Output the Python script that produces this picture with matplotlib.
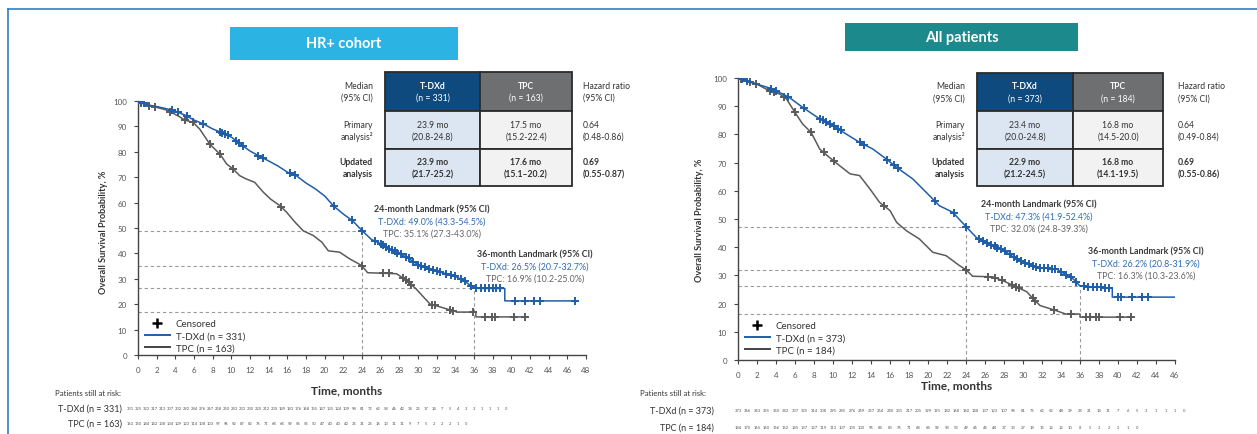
import numpy as np
import matplotlib
matplotlib.use("Agg")
import matplotlib.pyplot as plt
from matplotlib.patches import Rectangle
from matplotlib.lines import Line2D
from matplotlib import transforms

plt.rcParams['font.family'] = ['Lato', 'DejaVu Sans']

W, H = 1257, 435

# ---------------- data ----------------
# HR+ cohort
hr_tdxd_t = [0, 0.5, 1, 2, 3, 4, 5, 6, 7, 8, 9, 10, 11, 12, 13, 14, 15, 16, 17, 18, 19, 20,
             21, 22, 23, 24, 25, 26, 27, 28, 29, 30, 31, 32, 33, 34, 35, 35.6, 36, 36.5, 39.3, 39.3, 47]
hr_tdxd_s = [100, 99.2, 98.5, 97.8, 97, 96, 94.5, 92.5, 91, 89, 87.5, 85.8, 83, 80.3, 78.3, 76.4, 74.4,
             72, 70.5, 67.7, 65.4, 62.6, 58.5, 55.5, 52.8, 49.0, 45.5, 43.8, 41.7, 40, 38, 35.5, 34.2,
             33, 32, 31, 29, 27.5, 26.5, 26.2, 26.2, 21.3, 21.3]
hr_tpc_t = [0, 0.5, 1, 2, 3, 3.5, 4.5, 5.0, 5.9, 6.6, 7.7, 8.8, 9.5, 10.2, 10.9, 11.6, 12.5, 13.4, 14.2,
            15.2, 15.9, 16.8, 17.7, 18.8, 19.7, 20.4, 21.6, 22.7, 23.5, 24.0, 24.6, 27.7, 28.8, 29.8,
            31.3, 32.4, 34.2, 36.2, 36.2, 41.7]
hr_tpc_s = [100, 99, 98.3, 97.5, 96.5, 95.7, 93.7, 92.5, 91.6, 89, 83, 79, 75.2, 73.2, 70.6, 69.3, 68,
            64.2, 61.4, 58.8, 56.3, 52.4, 48.9, 47, 44.4, 41, 40.5, 37.8, 36.2, 35.1, 32.4, 32, 29.3,
            26, 20, 18.9, 16.9, 16.9, 15, 15]
hr_tdxd_cens = [0.3, 0.6, 3.6, 4.3, 5.3, 7.0, 8.8, 9.0, 9.3, 9.6, 10.5, 10.8, 11.2, 12.9, 13.4, 16.3,
                16.8, 21.0, 22.9, 24.0, 25.4, 26.0, 26.3, 26.6, 26.9, 27.2, 27.5, 27.8, 28.2, 28.7,
                29.0, 29.5, 30.0, 30.3, 30.7, 31.2, 31.6, 32.0, 32.4, 33.0, 33.5, 34.0, 34.6, 35.0,
                35.7, 36.2, 36.8, 37.2, 37.6, 38.0, 38.4, 38.8, 40.4, 41.5, 42.4, 43.1, 46.8]
hr_tpc_cens = [0.3, 1.2, 1.8, 3.4, 5.0, 5.9, 7.7, 8.8, 10.2, 15.3, 24.0, 26.3, 26.9, 28.4, 28.7, 29.0,
               29.3, 31.5, 31.8, 33.4, 33.8, 35.9, 37.2, 37.9, 38.3, 40.3, 41.5]
hr_land24 = (49.0, 35.1)
hr_land36 = (26.5, 16.9)
hr_risk_tdxd = [331, 325, 323, 317, 313, 307, 302, 292, 284, 276, 267, 258, 250, 243, 233, 230, 220,
                212, 200, 189, 183, 176, 168, 155, 147, 135, 124, 109, 94, 81, 72, 62, 54, 46, 42, 34,
                25, 17, 14, 7, 5, 4, 3, 3, 1, 1, 1, 0]
hr_risk_tpc = [163, 150, 144, 142, 138, 134, 129, 123, 114, 108, 103, 97, 96, 92, 87, 82, 76, 71, 68,
               64, 59, 56, 55, 50, 47, 43, 43, 42, 35, 31, 25, 16, 13, 11, 11, 9, 7, 5, 2, 2, 2, 1, 0]

# All patients
all_tdxd_t = [0, 1, 1.9, 3, 4.0, 5.4, 6.8, 8.6, 10.0, 11.4, 12.8, 14.2, 15.6, 16.7, 18.4, 19.8, 21.2,
              22.6, 24, 25.1, 26.5, 28.0, 29.3, 30.7, 31.8, 33.5, 35.3, 36.0, 39.4, 39.4, 46.8]
all_tdxd_s = [100, 98.8, 97.9, 96.8, 95.5, 93.1, 89.6, 85.5, 83.1, 80.1, 77.2, 74.8, 71.3, 68.3, 64.2,
              59.5, 54.7, 52.4, 47.3, 43.4, 41.1, 38.8, 35.8, 33.8, 32.6, 32.3, 28.7, 26.2, 25.5,
              22.3, 22.3]
all_tpc_t = [0, 1, 1.9, 3, 4.4, 5.1, 6.0, 6.8, 7.7, 8.6, 9.6, 10.7, 11.8, 12.8, 13.9, 14.9, 16, 16.7,
             17.7, 19.1, 20.5, 21.9, 23.3, 24, 24.7, 26.8, 27.9, 29, 30.4, 31.1, 31.8, 33.5, 34.5, 36.0,
             36.0, 41.4]
all_tpc_s = [100, 98.8, 98, 96, 94.3, 92.6, 87.8, 83.7, 80.7, 74.8, 71.9, 68.9, 66, 65.4, 60.6, 55.9,
             53, 48.8, 45.9, 42.9, 38.2, 37, 33.5, 32.0, 29.7, 29.5, 28.1, 26.4, 24.2, 21.6, 19.3,
             17.5, 16.3, 16.3, 15.2, 15.2]
all_tdxd_cens = [0.4, 0.9, 3.5, 4.0, 5.3, 6.9, 8.6, 8.9, 9.3, 9.7, 10.1, 10.5, 10.8, 12.8, 13.3, 15.7,
                 16.4, 16.8, 20.7, 22.7, 24.0, 25.4, 25.8, 26.2, 26.6, 27.0, 27.3, 27.7, 28.1, 28.6,
                 29.0, 29.4, 29.8, 30.2, 30.6, 31.0, 31.4, 31.8, 32.2, 32.6, 33.0, 33.4, 34.0, 34.5,
                 35.0, 35.6, 36.4, 36.8, 37.4, 37.8, 38.2, 38.6, 39.0, 40.0, 40.3, 41.5, 42.5, 43.2, 46.8]
all_tpc_cens = [0.3, 1.3, 1.9, 3.4, 3.8, 4.8, 6.0, 7.7, 9.0, 10.1, 15.4, 24.0, 26.3, 27.0, 27.8, 28.8,
                29.3, 29.6, 31.0, 31.3, 33.3, 35.0, 36.6, 37.1, 37.7, 38.0, 40.2, 41.4]
all_land24 = (47.3, 32.0)
all_land36 = (26.2, 16.3)
all_risk_tdxd = [373, 366, 363, 355, 350, 342, 337, 325, 314, 308, 295, 285, 276, 269, 257, 254, 240,
                 231, 217, 205, 199, 191, 182, 168, 160, 148, 137, 123, 107, 94, 81, 75, 62, 52, 48,
                 39, 28, 21, 18, 11, 7, 6, 5, 3, 1, 1, 1, 0]
all_risk_tpc = [184, 170, 165, 160, 156, 152, 145, 137, 127, 119, 113, 107, 105, 100, 95, 88, 83, 76,
                71, 68, 64, 59, 58, 53, 49, 45, 45, 44, 37, 33, 27, 18, 15, 12, 12, 10, 8, 5, 2, 2, 2,
                1, 0]

# Median OS table text
hr_table = [["23.9 mo", "(20.8-24.8)", "17.5 mo", "(15.2-22.4)", "0.64", "(0.48-0.86)"],
            ["23.9 mo", "(21.7-25.2)", "17.6 mo", "(15.1\u201320.2)", "0.69", "(0.55-0.87)"]]
all_table = [["23.4 mo", "(20.0-24.8)", "16.8 mo", "(14.5-20.0)", "0.64", "(0.49-0.84)"],
             ["22.9 mo", "(21.2-24.5)", "16.8 mo", "(14.1-19.5)", "0.69", "(0.55-0.86)"]]

BLUE = "#1f5ea8"
GREY = "#5b5b5b"
NAVY = "#0e4a7e"
HDR_GREY = "#6e6f71"
TXT = "#333333"


def fx(x):
    return x / W


def fy(y):
    return 1 - y / H


fig = plt.figure(figsize=(W / 100, H / 100), dpi=100)
fig.patch.set_facecolor("white")

# frame lines
fig.add_artist(Line2D([fx(8), fx(8)], [fy(10), fy(435)], color="#2f7fc4", lw=1.2))
fig.add_artist(Line2D([fx(8), fx(1257)], [fy(10), fy(10)], color="#2f7fc4", lw=1.2))


def title_box(x0, x1, y0, y1, label, color):
    fig.add_artist(Rectangle((fx(x0), fy(y1)), fx(x1 - x0), (y1 - y0) / H,
                             facecolor=color, edgecolor="none", transform=fig.transFigure))
    fig.text(fx((x0 + x1) / 2), fy((y0 + y1) / 2), label, color="white", fontsize=10.5,
             fontweight="bold", ha="center", va="center")


title_box(230, 458, 28, 61, "HR+ cohort", "#2bb3e4")
title_box(845, 1078, 24, 52, "All patients", "#1c8a8c")


def km_panel(rect, xmax, tdxd_t, tdxd_s, tpc_t, tpc_s, tdxd_c, tpc_c, l24, l36, n_tdxd, n_tpc,
             leg_y):
    ax = fig.add_axes(rect)
    ax.set_xlim(0, xmax)
    ax.set_ylim(0, 100)
    for side in ("top", "right"):
        ax.spines[side].set_visible(False)
    for side in ("left", "bottom"):
        ax.spines[side].set_color("#444444")
        ax.spines[side].set_linewidth(1.0)
    ax.set_xticks(np.arange(0, xmax + 1, 2))
    ax.set_yticks(np.arange(0, 101, 10))
    ax.tick_params(labelsize=5.8, labelcolor="#555555", length=3, width=0.8, color="#444444", pad=5)
    ax.patch.set_alpha(0)

    # landmark guides
    dash = dict(color="#9a9a9a", lw=0.8, ls=(0, (3, 2.5)), zorder=1)
    for v in l24:
        ax.plot([0, 24], [v, v], **dash)
    for v in l36:
        ax.plot([0, 36], [v, v], **dash)
    ax.plot([24, 24], [0, max(l24)], **dash)
    ax.plot([36, 36], [0, max(l36)], **dash)

    ax.plot(tpc_t, tpc_s, color=GREY, lw=1.1, zorder=3)
    ax.plot(tdxd_t, tdxd_s, color=BLUE, lw=1.1, zorder=4)
    ax.plot(tpc_c, np.interp(tpc_c, tpc_t, tpc_s), ls="none", marker="+", ms=5.5, mew=1.4,
            color=GREY, zorder=3)
    ax.plot(tdxd_c, np.interp(tdxd_c, tdxd_t, tdxd_s), ls="none", marker="+", ms=5.5, mew=1.4,
            color=BLUE, zorder=4)

    handles = [Line2D([], [], ls="none", marker="+", ms=7.5, mew=1.8, color="black"),
               Line2D([], [], color=BLUE, lw=1.4),
               Line2D([], [], color="#444444", lw=1.4)]
    labels = ["Censored", f"T-DXd (n = {n_tdxd})", f"TPC (n = {n_tpc})"]
    ax.legend(handles, labels, loc="lower left", bbox_to_anchor=(0.0, leg_y), frameon=False,
              fontsize=7, labelcolor="#333333", handlelength=2.6, handletextpad=0.6,
              labelspacing=0.3, borderaxespad=0.3)
    return ax


ax1 = km_panel([fx(138), 1 - 356 / H, 448 / W, 254 / H], 48, hr_tdxd_t, hr_tdxd_s, hr_tpc_t, hr_tpc_s,
               hr_tdxd_cens, hr_tpc_cens, hr_land24, hr_land36, 331, 163, -0.016)
ax2 = km_panel([fx(738), 1 - 361 / H, 437 / W, 282 / H], 46, all_tdxd_t, all_tdxd_s, all_tpc_t,
               all_tpc_s, all_tdxd_cens, all_tpc_cens, all_land24, all_land36, 373, 184, -0.004)

# axis titles
for x, y in ((104, 232), (700, 220)):
    fig.text(fx(x), fy(y), "Overall Survival Probability, %", rotation=90, ha="center",
             va="center", fontsize=6.6, fontweight="bold", color=TXT)
fig.text(fx(347), fy(391), "Time, months", ha="center", va="center", fontsize=8.5,
         fontweight="bold", color=TXT)
fig.text(fx(957), fy(386), "Time, months", ha="center", va="center", fontsize=8.5,
         fontweight="bold", color=TXT)


def landmark(cx, y0, months, tdxd, tpc):
    fig.text(fx(cx), fy(y0), f"{months}-month Landmark (95% CI)", ha="center", va="center",
             fontsize=6.4, fontweight="bold", color="#3a3a3a")
    fig.text(fx(cx), fy(y0 + 12), f"T-DXd: {tdxd}", ha="center", va="center", fontsize=6.4,
             color="#2e6db4")
    fig.text(fx(cx), fy(y0 + 24), f"TPC: {tpc}", ha="center", va="center", fontsize=6.4,
             color="#666666")


landmark(432, 210, 24, f"{hr_land24[0]:.1f}% (43.3-54.5%)", f"{hr_land24[1]:.1f}% (27.3-43.0%)")
landmark(535, 255, 36, f"{hr_land36[0]:.1f}% (20.7-32.7%)", f"{hr_land36[1]:.1f}% (10.2-25.0%)")
landmark(1039, 205, 24, f"{all_land24[0]:.1f}% (41.9-52.4%)", f"{all_land24[1]:.1f}% (24.8-39.3%)")
landmark(1146, 252, 36, f"{all_land36[0]:.1f}% (20.8-31.9%)", f"{all_land36[1]:.1f}% (10.3-23.6%)")


def median_table(lab_x, cols, rows, hr_x, n1, n2, body):
    (c0, c1), (c2, c3) = cols
    fills = [(NAVY, HDR_GREY), ("#dce6f2", "#f2f2f2"), ("#dce6f2", "#f2f2f2")]
    for r, (y0, y1) in enumerate(rows):
        for (a, b), fc in zip(cols, fills[r]):
            fig.add_artist(Rectangle((fx(a), fy(y1)), fx(b - a), (y1 - y0) / H, facecolor=fc,
                                     edgecolor="#2b2b2b", lw=1.3, transform=fig.transFigure))
    fs = 6.2
    left_labels = [("Median", "(95% CI)", "normal"), ("Primary", "analysis\u00b2", "normal"),
                   ("Updated", "analysis", "bold")]
    for (y0, y1), (l1, l2, wt) in zip(rows, left_labels):
        yc = (y0 + y1) / 2
        fig.text(fx(lab_x), fy(yc - 6), l1, ha="right", va="center", fontsize=fs, fontweight=wt,
                 color=TXT)
        fig.text(fx(lab_x), fy(yc + 6), l2, ha="right", va="center", fontsize=fs, fontweight=wt,
                 color=TXT)
    yc = (rows[0][0] + rows[0][1]) / 2
    fig.text(fx((c0 + c1) / 2), fy(yc - 6), "T-DXd", ha="center", va="center", fontsize=fs,
             fontweight="bold", color="white")
    fig.text(fx((c0 + c1) / 2), fy(yc + 6), f"(n = {n1})", ha="center", va="center", fontsize=fs,
             color="white")
    fig.text(fx((c2 + c3) / 2), fy(yc - 6), "TPC", ha="center", va="center", fontsize=fs,
             fontweight="bold", color="white")
    fig.text(fx((c2 + c3) / 2), fy(yc + 6), f"(n = {n2})", ha="center", va="center", fontsize=fs,
             color="white")
    fig.text(fx(hr_x), fy(yc - 6), "Hazard ratio", ha="left", va="center", fontsize=fs, color=TXT)
    fig.text(fx(hr_x), fy(yc + 6), "(95% CI)", ha="left", va="center", fontsize=fs, color=TXT)
    for (y0, y1), vals, wt in zip(rows[1:], body, ("normal", "bold")):
        yc = (y0 + y1) / 2
        xs = [((c0 + c1) / 2, "center"), ((c2 + c3) / 2, "center"), (hr_x, "left")]
        for k, (x, ha) in enumerate(xs):
            fig.text(fx(x), fy(yc - 6), vals[2 * k], ha=ha, va="center", fontsize=fs,
                     fontweight=wt, color=TXT)
            fig.text(fx(x), fy(yc + 6), vals[2 * k + 1], ha=ha, va="center", fontsize=fs,
                     fontweight=wt, color=TXT)


median_table(373, [(385, 480), (480, 572)], [(73, 112), (112, 150), (150, 187)], 583, 331, 163,
             hr_table)
median_table(965, [(977, 1073), (1073, 1163)], [(74, 112), (112, 150), (150, 187)], 1178, 373, 184,
             all_table)

# numbers at risk
fig.text(fx(55), fy(394), "Patients still at risk:", ha="left", va="center", fontsize=5.6,
         color=TXT)
fig.text(fx(122), fy(409), "T-DXd (n = 331)", ha="right", va="center", fontsize=6.5, color=TXT)
fig.text(fx(122), fy(424), "TPC (n = 163)", ha="right", va="center", fontsize=6.5, color=TXT)
for i, v in enumerate(hr_risk_tdxd):
    fig.text(fx(130 + 8.0 * i), fy(409), str(v), ha="center", va="center", fontsize=3,
             color="#555555")
for i, v in enumerate(hr_risk_tpc):
    fig.text(fx(130 + 8.0 * i), fy(424), str(v), ha="center", va="center", fontsize=3,
             color="#555555")

fig.text(fx(640), fy(394), "Patients still at risk:", ha="left", va="center", fontsize=5.6,
         color=TXT)
fig.text(fx(714), fy(411), "T-DXd (n = 373)", ha="right", va="center", fontsize=6.5, color=TXT)
fig.text(fx(714), fy(428), "TPC (n = 184)", ha="right", va="center", fontsize=6.5, color=TXT)
risk_tr = transforms.blended_transform_factory(ax2.transData, fig.transFigure)
for i, v in enumerate(all_risk_tdxd):
    fig.text(i, fy(411), str(v), ha="center", va="center", fontsize=3, color="#555555",
             transform=risk_tr)
for i, v in enumerate(all_risk_tpc):
    fig.text(i, fy(428), str(v), ha="center", va="center", fontsize=3, color="#555555",
             transform=risk_tr)

fig.savefig("out.png", dpi=100)
